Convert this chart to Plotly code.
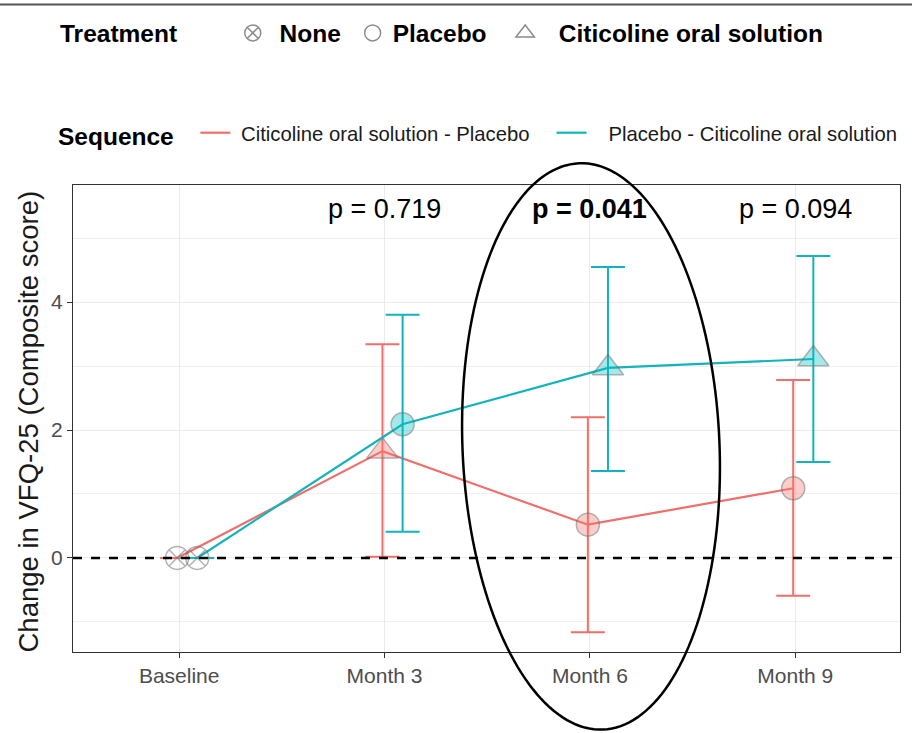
import math
import plotly.graph_objects as go

# ---------------- data ----------------
timepoints = ["Baseline", "Month 3", "Month 6", "Month 9"]

seq_names = ["Citicoline oral solution - Placebo", "Placebo - Citicoline oral solution"]
seq_colors = ["#EE6F6B", "#12B4BC"]
seq_fill = ["rgba(248,118,109,0.5)", "rgba(0,191,196,0.5)"]
seq_offsets = [-0.01, 0.088]

mean_a = [0.0, 1.67, 0.52, 1.09]
upper_a = [None, 3.34, 2.20, 2.78]
lower_a = [None, 0.02, -1.16, -0.59]
treat_a = ["None", "Citicoline oral solution", "Placebo", "Placebo"]

mean_b = [0.0, 2.09, 2.97, 3.11]
upper_b = [None, 3.80, 4.55, 4.72]
lower_b = [None, 0.41, 1.36, 1.50]
treat_b = ["None", "Placebo", "Citicoline oral solution", "Citicoline oral solution"]

treatments = ["None", "Placebo", "Citicoline oral solution"]
treat_symbols = {"None": "circle-x", "Placebo": "circle", "Citicoline oral solution": "triangle-up"}
treat_sizes = {"None": 23, "Placebo": 23, "Citicoline oral solution": 27}

p_labels = ["p = 0.719", "p = 0.041", "p = 0.094"]
p_bold = [False, True, False]
p_positions = [1, 2, 3]
p_y = 5.46

# ---------------- layout constants ----------------
W, H = 912, 733
ML, MR, MT, MB = 73, 12, 184, 81
PW, PH = W - ML - MR, H - MT - MB

# spacing padding for legend labels (layout only)
treat_label_pad = {"None": (1, 1), "Placebo": (0, 2), "Citicoline oral solution": (2, 0)}
seq_label_pad = [(1, 3), (3, 0)]
SP = "\u00a0"


def px2paper(x, y):
    return (x - ML) / PW, (H - MB - y) / PH


fig = go.Figure()

series = [
    (mean_a, upper_a, lower_a, treat_a),
    (mean_b, upper_b, lower_b, treat_b),
]

for i, (m, up, lo, tr) in enumerate(series):
    xs = [k + seq_offsets[i] for k in range(len(timepoints))]
    err_plus = [None if u is None else u - v for u, v in zip(up, m)]
    err_minus = [None if l is None else v - l for l, v in zip(lo, m)]
    fills = ["rgba(0,0,0,0)" if t == "None" else seq_fill[i] for t in tr]
    fig.add_trace(go.Scatter(
        x=xs, y=m, mode="lines+markers",
        line=dict(color=seq_colors[i], width=2.2),
        marker=dict(symbol=[treat_symbols[t] for t in tr],
                    size=[treat_sizes[t] for t in tr],
                    color=fills,
                    line=dict(color="rgba(110,110,110,0.75)", width=1.5)),
        error_y=dict(type="data", symmetric=False, array=err_plus, arrayminus=err_minus,
                     color=seq_colors[i], thickness=2, width=17),
        showlegend=False, hoverinfo="skip",
    ))

# Treatment legend entries
for t in treatments:
    lead, trail = treat_label_pad[t]
    fig.add_trace(go.Scatter(
        x=[None], y=[None], mode="markers", name=SP * lead + t + SP * trail,
        marker=dict(symbol=treat_symbols[t] + ("" if t == "None" else "-open"),
                    size=22, color="rgba(0,0,0,0)" if t == "None" else "#8c8c8c",
                    line=dict(color="#8c8c8c", width=1.5)),
        legend="legend", showlegend=True,
    ))

# Sequence legend entries
for i, n in enumerate(seq_names):
    lead, trail = seq_label_pad[i]
    fig.add_trace(go.Scatter(
        x=[None], y=[None], mode="lines", name=SP * lead + n + SP * trail,
        line=dict(color=seq_colors[i], width=2.2),
        legend="legend2", showlegend=True,
    ))

# dashed zero line
fig.add_shape(type="line", xref="paper", yref="y", x0=0, x1=1, y0=0, y1=0,
              line=dict(color="black", width=2.5, dash="dash"))

# p-values
for lab, b, xp in zip(p_labels, p_bold, p_positions):
    fig.add_annotation(x=xp, y=p_y, xref="x", yref="y", text=f"<b>{lab}</b>" if b else lab,
                       showarrow=False, font=dict(size=27, color="black"))

# y axis title
tx, ty = px2paper(28, 421)
fig.add_annotation(x=tx, y=ty, xref="paper", yref="paper", text="Change in VFQ-25 (Composite score)",
                   textangle=-90, showarrow=False, font=dict(size=27.5, color="#1a1a1a"),
                   xanchor="center", yanchor="middle")

# ellipse highlight (slightly tilted)
cx, cy, a, b, phi = 591, 446, 128.5, 284, math.radians(-2.4)
pts = []
for k in range(181):
    t = 2 * math.pi * k / 180
    x = cx + a * math.cos(t) * math.cos(phi) - b * math.sin(t) * math.sin(phi)
    y = cy + a * math.cos(t) * math.sin(phi) + b * math.sin(t) * math.cos(phi)
    pts.append(px2paper(x, y))
path = "M " + " L ".join(f"{p[0]:.5f},{p[1]:.5f}" for p in pts) + " Z"
fig.add_shape(type="path", xref="paper", yref="paper", path=path,
              line=dict(color="black", width=2.5))

# top rule
x0, y0 = px2paper(0, 3)
x1, _ = px2paper(W, 3)
fig.add_shape(type="line", xref="paper", yref="paper", x0=x0, x1=x1, y0=y0, y1=y0,
              line=dict(color="#555555", width=2))

lx, ly = px2paper(58, 33)
l2x, l2y = px2paper(56, 134)

fig.update_layout(
    width=W, height=H,
    margin=dict(l=ML, r=MR, t=MT, b=MB),
    plot_bgcolor="white", paper_bgcolor="white",
    font=dict(family="Liberation Sans, Arial, sans-serif"),
    xaxis=dict(range=[-0.517, 3.51], tickvals=list(range(len(timepoints))), ticktext=timepoints,
               showgrid=True, gridcolor="#ebebeb", gridwidth=1.2, zeroline=False,
               ticks="outside", ticklen=5, tickwidth=1.2, tickcolor="#333333",
               showline=True, mirror=True, linecolor="#333333", linewidth=1.2,
               tickfont=dict(size=21, color="#4d4d4d")),
    yaxis=dict(range=[-1.47, 5.83], tickvals=[0, 2, 4],
               minor=dict(tickvals=[-1, 1, 3, 5], showgrid=True, gridcolor="#f0f0f0", gridwidth=0.8),
               showgrid=True, gridcolor="#ebebeb", gridwidth=1.2, zeroline=False,
               ticks="outside", ticklen=5, tickwidth=1.2, tickcolor="#333333",
               showline=True, mirror=True, linecolor="#333333", linewidth=1.2,
               tickfont=dict(size=21, color="#4d4d4d")),
    legend=dict(title=dict(text="<b>Treatment</b>" + SP * 7, font=dict(size=24.5, color="black")),
                orientation="h", x=lx, xanchor="left", y=ly, yanchor="middle",
                font=dict(size=24.5, color="black", weight="bold"), bgcolor="rgba(0,0,0,0)",
                itemsizing="trace"),
    legend2=dict(title=dict(text="<b>Sequence</b>" + SP * 2, font=dict(size=24.5, color="black")),
                 orientation="h", x=l2x, xanchor="left", y=l2y, yanchor="middle",
                 font=dict(size=20.3, color="#1a1a1a"), bgcolor="rgba(0,0,0,0)"),
)

fig.write_html("out.html")
